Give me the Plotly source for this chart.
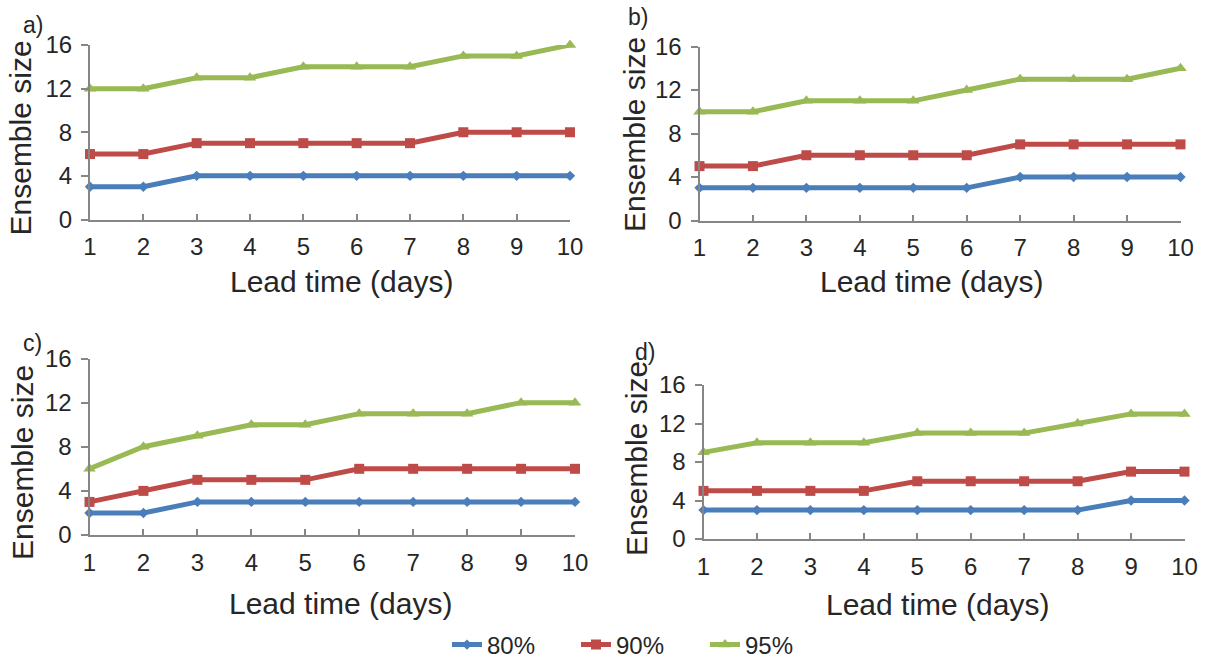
import plotly.graph_objects as go

W, H = 1211, 659

lead_time = [1, 2, 3, 4, 5, 6, 7, 8, 9, 10]
series_names = ["80%", "90%", "95%"]

a_80 = [3, 3, 4, 4, 4, 4, 4, 4, 4, 4]
a_90 = [6, 6, 7, 7, 7, 7, 7, 8, 8, 8]
a_95 = [12, 12, 13, 13, 14, 14, 14, 15, 15, 16]

b_80 = [3, 3, 3, 3, 3, 3, 4, 4, 4, 4]
b_90 = [5, 5, 6, 6, 6, 6, 7, 7, 7, 7]
b_95 = [10, 10, 11, 11, 11, 12, 13, 13, 13, 14]

c_80 = [2, 2, 3, 3, 3, 3, 3, 3, 3, 3]
c_90 = [3, 4, 5, 5, 5, 6, 6, 6, 6, 6]
c_95 = [6, 8, 9, 10, 10, 11, 11, 11, 12, 12]

d_80 = [3, 3, 3, 3, 3, 3, 3, 3, 4, 4]
d_90 = [5, 5, 5, 5, 6, 6, 6, 6, 7, 7]
d_95 = [9, 10, 10, 10, 11, 11, 11, 12, 13, 13]

y_ticks = [0, 4, 8, 12, 16]
panel_labels = ["a)", "b)", "c)", "d)"]
x_title = "Lead time (days)"
y_title = "Ensemble size"

panels = [
    [a_80, a_90, a_95],
    [b_80, b_90, b_95],
    [c_80, c_90, c_95],
    [d_80, d_90, d_95],
]

colors = ["#4A7EBB", "#BE4B48", "#98B954"]
symbols = ["diamond", "square", "triangle-up"]
msizes = [8, 10, 11]

# pixel boxes: (x0, x1, ytop, ybottom)
boxes = [
    (90, 570, 45, 219.5),
    (699.5, 1180.5, 46.5, 220.5),
    (89.5, 575, 358.5, 535),
    (703.5, 1184.5, 385, 539),
]

# annotation pixel positions
panel_lbl_pos = [(33, 25), (638, 17), (32, 343), (645, 352)]
ytitle_pos = [(19.5, 138), (634, 134), (22, 463), (636, 459)]
xtitle_pos = [(341, 281), (931, 281), (340, 603), (937, 604)]

FONT = "Liberation Sans, Arial, sans-serif"
TXT = "#262626"
AXC = "#868686"

def px(x):
    return x / W

def py(y):
    return 1 - y / H

fig = go.Figure()
annotations = []
for i, (data, box) in enumerate(zip(panels, boxes)):
    n = i + 1
    xa = "x" if n == 1 else f"x{n}"
    ya = "y" if n == 1 else f"y{n}"
    for j, vals in enumerate(data):
        fig.add_trace(go.Scatter(
            x=lead_time, y=vals, mode="lines+markers",
            name=series_names[j],
            line=dict(color=colors[j], width=5),
            marker=dict(symbol=symbols[j], size=msizes[j], color=colors[j]),
            xaxis=xa, yaxis=ya, cliponaxis=False,
            showlegend=(i == 0),
        ))
    x0, x1, yt, yb = box
    xkey = "xaxis" if n == 1 else f"xaxis{n}"
    ykey = "yaxis" if n == 1 else f"yaxis{n}"
    fig.update_layout(**{
        xkey: dict(
            domain=[px(x0), px(x1)], range=[1, 10], anchor=ya,
            tickmode="array", tickvals=lead_time,
            ticktext=[str(v) for v in lead_time],
            showgrid=False, zeroline=False, showline=True,
            linecolor=AXC, linewidth=2, ticks="inside", ticklen=6,
            tickcolor=AXC, tickwidth=2,
            tickfont=dict(family=FONT, size=24, color=TXT),
            ticklabelstandoff=5, automargin=False,
        ),
        ykey: dict(
            domain=[py(yb), py(yt)], range=[0, 16], anchor=xa,
            tickmode="array", tickvals=y_ticks,
            showgrid=False, zeroline=False, showline=True,
            linecolor=AXC, linewidth=2, ticks="outside", ticklen=7,
            tickcolor=AXC, tickwidth=2,
            tickfont=dict(family=FONT, size=24, color=TXT),
            ticklabelstandoff=4, automargin=False,
        ),
    })
    lx, ly = panel_lbl_pos[i]
    annotations.append(dict(text=panel_labels[i], x=px(lx), y=py(ly),
                            xref="paper", yref="paper", showarrow=False,
                            xanchor="center", yanchor="middle",
                            font=dict(family=FONT, size=23, color=TXT)))
    tx, ty = ytitle_pos[i]
    annotations.append(dict(text=y_title, x=px(tx), y=py(ty),
                            xref="paper", yref="paper", showarrow=False,
                            textangle=-90, xanchor="center", yanchor="middle",
                            font=dict(family=FONT, size=30, color=TXT)))
    tx, ty = xtitle_pos[i]
    annotations.append(dict(text=x_title, x=px(tx), y=py(ty),
                            xref="paper", yref="paper", showarrow=False,
                            xanchor="center", yanchor="middle",
                            font=dict(family=FONT, size=30, color=TXT)))

fig.update_layout(
    width=W, height=H,
    margin=dict(l=0, r=0, t=0, b=0, autoexpand=False),
    paper_bgcolor="white", plot_bgcolor="white",
    annotations=annotations,
    legend=dict(orientation="h", x=px(447), y=py(645), xanchor="left",
                yanchor="middle", font=dict(family=FONT, size=24, color=TXT),
                entrywidth=84, entrywidthmode="pixels",
                tracegroupgap=0, bgcolor="rgba(0,0,0,0)"),
)

fig.write_html(
    "out.html",
    config={"displayModeBar": False},
    post_script="document.body.style.margin='0';document.body.style.overflow='hidden';",
)
